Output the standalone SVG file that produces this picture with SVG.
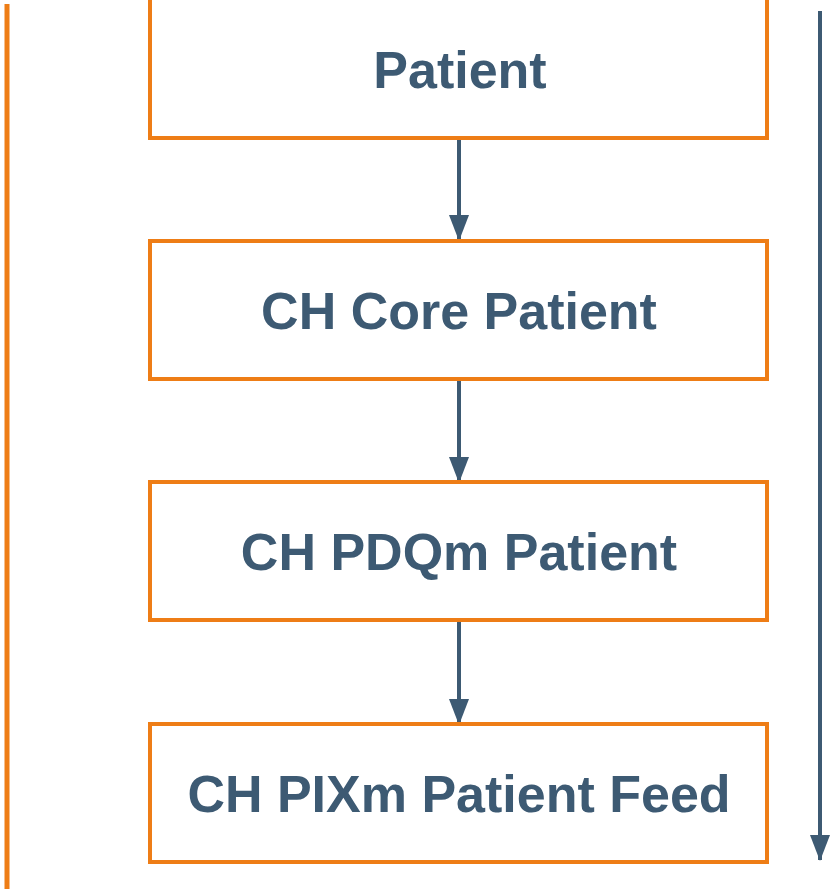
<svg xmlns="http://www.w3.org/2000/svg" width="831" height="889" viewBox="0 0 831 889">
<style>
.box{fill:#ffffff;stroke:#EE7D16;stroke-width:4}
.lbl{font-family:"Liberation Sans",Arial,sans-serif;font-weight:bold;font-size:52px;fill:#3D5A73;text-anchor:middle}
.conn{stroke:#3D5A73;stroke-width:4;fill:none}
</style>
<defs>
<marker id="ah2" markerUnits="userSpaceOnUse" markerWidth="26" markerHeight="20" refX="25" refY="10" orient="auto" viewBox="0 0 26 20">
<path d="M0,0 L26,10 L0,20 z" fill="#3D5A73"/>
</marker>
</defs>
<line x1="7" y1="4" x2="7" y2="889" stroke="#EE7D16" stroke-width="5"/>
<g id="connectors">
<line class="conn" x1="459" y1="138" x2="459" y2="240" marker-end="url(#ah2)"/>
<line class="conn" x1="459" y1="379" x2="459" y2="482" marker-end="url(#ah2)"/>
<line class="conn" x1="459" y1="620" x2="459" y2="724" marker-end="url(#ah2)"/>
<line class="conn" x1="820" y1="11" x2="820" y2="860" marker-end="url(#ah2)"/>
</g>
<g id="patient">
<rect class="box" x="150" y="-2" width="617" height="140"/>
<text class="lbl" x="460" y="88">Patient</text>
</g>
<g id="ch-core-patient">
<rect class="box" x="150" y="241" width="617" height="138"/>
<text class="lbl" x="459" y="329">CH Core Patient</text>
</g>
<g id="ch-pdqm-patient">
<rect class="box" x="150" y="482" width="617" height="138"/>
<text class="lbl" x="459" y="570">CH PDQm Patient</text>
</g>
<g id="ch-pixm-patient-feed">
<rect class="box" x="150" y="724" width="617" height="138"/>
<text class="lbl" x="459" y="812">CH PIXm Patient Feed</text>
</g>
</svg>
